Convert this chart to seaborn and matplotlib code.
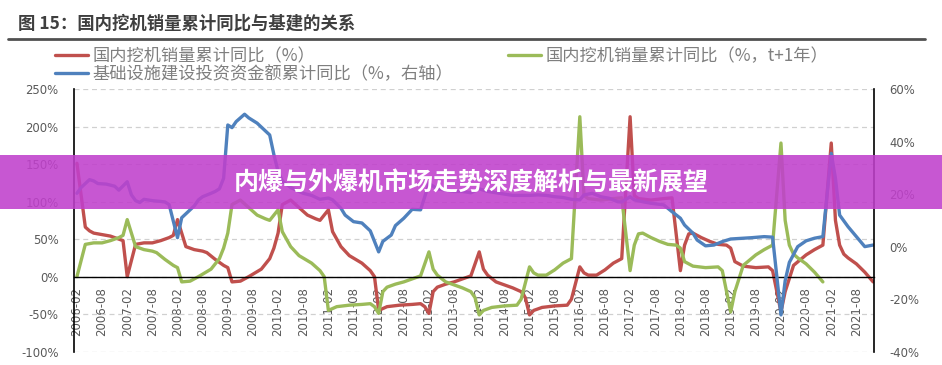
import pandas as pd
import matplotlib
matplotlib.use('Agg')
import matplotlib.pyplot as plt
import seaborn as sns
from matplotlib.lines import Line2D
from matplotlib.patches import Rectangle

# 国内挖机销量累计同比（%）
red_dates = ['2006-02', '2006-04', '2006-05', '2006-06', '2006-08', '2006-10', '2006-12', '2007-01',
             '2007-02', '2007-04', '2007-06', '2007-08', '2007-10', '2007-12', '2008-01', '2008-02',
             '2008-04', '2008-06', '2008-08', '2008-09', '2008-11', '2009-01', '2009-02', '2009-03',
             '2009-05', '2009-07', '2009-10', '2009-12', '2010-01', '2010-02', '2010-03', '2010-05',
             '2010-07', '2010-09', '2010-11', '2010-12', '2011-02', '2011-03', '2011-05', '2011-07',
             '2011-10', '2011-12', '2012-01', '2012-02', '2012-04', '2012-07', '2012-10', '2012-12',
             '2013-01', '2013-02', '2013-03', '2013-04', '2013-06', '2013-08', '2013-10', '2013-12',
             '2014-02', '2014-03', '2014-04', '2014-06', '2014-08', '2014-10', '2014-12', '2015-01',
             '2015-02', '2015-03', '2015-05', '2015-08', '2015-11', '2015-12', '2016-02', '2016-03',
             '2016-04', '2016-06', '2016-08', '2016-10', '2016-12', '2017-02', '2017-03', '2017-04',
             '2017-07', '2017-10', '2017-12', '2018-02', '2018-03', '2018-04', '2018-05', '2018-07',
             '2018-09', '2018-11', '2019-01', '2019-02', '2019-03', '2019-05', '2019-08', '2019-11',
             '2019-12', '2020-02', '2020-03', '2020-05', '2020-08', '2020-10', '2020-12', '2021-02',
             '2021-03', '2021-04', '2021-05', '2021-06', '2021-08', '2021-10', '2021-12']
red_vals = [151, 66, 61, 58, 56, 54, 50, 48,
            0, 43, 45, 45, 48, 52, 55, 76,
            40, 36, 34, 32, 23, 15, 12, -7,
            -6, 0, 10, 24, 38, 58, 96, 102,
            92, 82, 77, 75, 89, 60, 40, 28,
            18, 8, 0, -45, -40, -38, -37, -36,
            -40, -49, -20, -14, -10, -7, -3, 1,
            33, 10, 2, -7, -11, -15, -20, -28,
            -51, -45, -41, -39, -38, -30, 13, 5,
            2, 2, 9, 18, 24, 213, 108, 104,
            102, 104, 105, 8, 42, 57, 58, 52,
            47, 43, 42, 38, 20, 14, 12, 13,
            8, -47, -20, 15, 29, 36, 42, 178,
            75, 42, 30, 25, 17, 6, -7]

# 国内挖机销量累计同比（%，t+1年）
green_dates = ['2006-02', '2006-04', '2006-06', '2006-08', '2006-10', '2006-12', '2007-01', '2007-02',
               '2007-04', '2007-06', '2007-08', '2007-09', '2007-11', '2008-01', '2008-02', '2008-03',
               '2008-05', '2008-07', '2008-10', '2008-12', '2009-01', '2009-02', '2009-03', '2009-05',
               '2009-07', '2009-09', '2009-11', '2009-12', '2010-02', '2010-03', '2010-05', '2010-07',
               '2010-10', '2010-12', '2011-01', '2011-02', '2011-04', '2011-07', '2011-10', '2011-12',
               '2012-01', '2012-02', '2012-03', '2012-04', '2012-06', '2012-08', '2012-10', '2012-12',
               '2013-02', '2013-03', '2013-04', '2013-06', '2013-08', '2013-10', '2013-12', '2014-01',
               '2014-02', '2014-03', '2014-05', '2014-08', '2014-11', '2014-12', '2015-02', '2015-03',
               '2015-04', '2015-06', '2015-08', '2015-10', '2015-12', '2016-02', '2016-03', '2016-04',
               '2016-07', '2016-10', '2016-12', '2017-02', '2017-03', '2017-04', '2017-05', '2017-07',
               '2017-09', '2017-11', '2018-01', '2018-02', '2018-03', '2018-05', '2018-08', '2018-11',
               '2018-12', '2019-02', '2019-03', '2019-05', '2019-08', '2019-10', '2019-12', '2020-02',
               '2020-03', '2020-04', '2020-05', '2020-06', '2020-08', '2020-10', '2020-12']
green_vals = [0, 43, 45, 45, 48, 52, 55, 76,
              40, 36, 34, 32, 23, 15, 12, -7,
              -6, 0, 10, 24, 38, 58, 96, 102,
              92, 82, 77, 75, 89, 60, 40, 28,
              18, 8, 0, -45, -40, -38, -37, -36,
              -40, -49, -20, -14, -10, -7, -3, 1,
              33, 10, 2, -7, -11, -15, -20, -28,
              -51, -45, -41, -39, -38, -30, 13, 5,
              2, 2, 9, 18, 24, 213, 108, 104,
              102, 104, 105, 8, 42, 57, 58, 52,
              47, 43, 42, 38, 20, 14, 12, 13,
              8, -47, -20, 15, 29, 36, 42, 178,
              75, 42, 30, 25, 17, 6, -7]

# 基础设施建设投资资金额累计同比（%，右轴）
blue_dates = ['2006-02', '2006-03', '2006-05', '2006-06', '2006-07', '2006-09', '2006-11', '2006-12',
              '2007-02', '2007-03', '2007-04', '2007-05', '2007-06', '2007-08', '2007-10', '2007-11',
              '2007-12', '2008-02', '2008-03', '2008-04', '2008-05', '2008-06', '2008-07', '2008-08',
              '2008-10', '2008-11', '2008-12', '2009-01', '2009-02', '2009-03', '2009-04', '2009-06',
              '2009-07', '2009-08', '2009-09', '2009-10', '2009-12', '2010-01', '2010-02', '2010-03',
              '2010-05', '2010-07', '2010-08', '2010-10', '2010-12', '2011-02', '2011-03', '2011-05',
              '2011-06', '2011-08', '2011-10', '2011-12', '2012-02', '2012-03', '2012-05', '2012-06',
              '2012-08', '2012-10', '2012-12', '2013-02', '2013-04', '2013-06', '2013-08', '2013-10',
              '2013-12', '2014-02', '2014-04', '2014-06', '2014-08', '2014-10', '2014-12', '2015-02',
              '2015-04', '2015-06', '2015-08', '2015-10', '2015-12', '2016-02', '2016-03', '2016-05',
              '2016-07', '2016-09', '2016-11', '2016-12', '2017-02', '2017-03', '2017-05', '2017-07',
              '2017-10', '2017-12', '2018-02', '2018-03', '2018-05', '2018-06', '2018-08', '2018-10',
              '2018-12', '2019-02', '2019-05', '2019-07', '2019-10', '2019-12', '2020-02', '2020-03',
              '2020-04', '2020-06', '2020-08', '2020-10', '2020-12', '2021-02', '2021-03', '2021-04',
              '2021-06', '2021-08', '2021-10', '2021-12']
blue_vals = [20.3, 22.5, 25.5, 25, 24, 23.8, 23, 21.5,
             24.7, 19.7, 17.5, 16.8, 18, 17.5, 17.2, 17,
             16, 3.4, 11, 12.5, 14, 15.5, 17.8, 19,
             20.3, 21, 22, 26, 46.3, 45.3, 47.6, 50.4,
             49, 48, 47, 45.5, 42.5, 35, 28.6, 25,
             22.5, 21, 20.3, 19.5, 18, 18.5, 17.8, 14.6,
             12, 9.5, 9, 6, -2, 2, 4.4, 8,
             10.8, 14.2, 14, 24, 22, 21.5, 21, 21,
             20.5, 22, 21, 20.5, 20, 19.5, 19.5, 19.5,
             19.7, 19.5, 19, 18.7, 18, 17.8, 19.7, 20.3,
             19, 18.4, 17.1, 17, 19, 17.8, 17.1, 16.5,
             15.9, 13.3, 10.8, 8.2, 5.1, 2.5, 0.3, 0.6,
             1.9, 2.9, 3.2, 3.4, 3.8, 3.6, -26, -13,
             -6, 0, 2.2, 3.2, 3.8, 35.5, 26, 12,
             7.6, 3.8, 0, 0.6]

x_labels = ['2006-02', '2006-08', '2007-02', '2007-08', '2008-02', '2008-08', '2009-02', '2009-08',
            '2010-02', '2010-08', '2011-02', '2011-08', '2012-02', '2012-08', '2013-02', '2013-08',
            '2014-02', '2014-08', '2015-02', '2015-08', '2016-02', '2016-08', '2017-02', '2017-08',
            '2018-02', '2018-08', '2019-02', '2019-08', '2020-02', '2020-08', '2021-02', '2021-08']
left_ticks = [-100, -50, 0, 50, 100, 150, 200, 250]
right_ticks = [-40, -20, 0, 20, 40, 60]

labels = ['国内挖机销量累计同比（%）', '基础设施建设投资资金额累计同比（%，右轴）', '国内挖机销量累计同比（%，t+1年）']
RED, GREEN, BLUE = '#C0504D', '#9BBB59', '#4F81BD'
CJK = ['Noto Sans CJK SC', 'DejaVu Sans']


def month_pos(dates):
    # 月度类目轴：2006-02 为 0
    d = pd.to_datetime(pd.Series(dates), format='%Y-%m')
    return ((d.dt.year - 2006) * 12 + d.dt.month - 2).values


sns.set_style('white')
# 刻度数字用 DejaVu Sans，中文文字单独指定 CJK 字体
plt.rcParams['font.family'] = ['DejaVu Sans', 'Noto Sans CJK SC']

fig = plt.figure(figsize=(9.42, 3.65), dpi=100)
ax = fig.add_axes([74 / 942, 1 - 351.7 / 365, 800 / 942, 262.7 / 365])

df_red = pd.DataFrame({'m': month_pos(red_dates), 'v': red_vals})
df_green = pd.DataFrame({'m': month_pos(green_dates), 'v': green_vals})
df_blue = pd.DataFrame({'m': month_pos(blue_dates), 'v': blue_vals})

line_kw = dict(linewidth=2.4, solid_joinstyle='round', solid_capstyle='round')
sns.lineplot(data=df_red, x='m', y='v', ax=ax, color=RED, **line_kw)
sns.lineplot(data=df_green, x='m', y='v', ax=ax, color=GREEN, **line_kw)

ax2 = ax.twinx()
sns.lineplot(data=df_blue, x='m', y='v', ax=ax2, color=BLUE, **line_kw)

ax.set_xlim(-0.7, 190.2)
ax.set_ylim(-100, 250)
ax2.set_ylim(-40, 60)

ax.set_xticks(month_pos(x_labels))
ax.set_xticklabels(x_labels)
ax.set_yticks(left_ticks)
ax.set_yticklabels([f'{t}%' for t in left_ticks])
ax2.set_yticks(right_ticks)
ax2.set_yticklabels([f'{t}%' for t in right_ticks])
for a in (ax, ax2):
    a.set_xlabel('')
    a.set_ylabel('')

ax.yaxis.grid(True, linestyle=(0, (4, 3)), color='#d0d0d0', linewidth=0.9)
ax.set_axisbelow(True)

ax.spines['bottom'].set_position(('data', 0))
ax.spines['bottom'].set_color('black')
ax.spines['bottom'].set_linewidth(1.0)
ax.spines['top'].set_visible(False)
ax.spines['right'].set_visible(False)
ax.spines['left'].set_color('black')
ax.spines['left'].set_linewidth(1.2)
for s in ('top', 'bottom', 'left'):
    ax2.spines[s].set_visible(False)
ax2.spines['right'].set_color('black')
ax2.spines['right'].set_linewidth(1.2)

ax.tick_params(axis='y', length=0, pad=11, labelsize=8.4, labelcolor='#595959')
ax.tick_params(axis='x', length=0, pad=7.5, labelsize=8.5, labelcolor='#595959', labelrotation=90)
ax2.tick_params(axis='y', length=0, pad=11, labelsize=8.4, labelcolor='#595959')

# 标题与分隔线
fig.text(18 / 942, 1 - 24 / 365, '图 15：国内挖机销量累计同比与基建的关系', fontsize=12.5,
         fontweight='bold', color='#3f3f3f', va='center', ha='left', family=CJK)
fig.add_artist(Line2D([8 / 942, 925 / 942], [1 - 38.5 / 365] * 2, color='#505050', linewidth=2))

# 图例
h_red = Line2D([], [], color=RED, linewidth=2.4)
h_blue = Line2D([], [], color=BLUE, linewidth=2.4)
h_green = Line2D([], [], color=GREEN, linewidth=2.4)
leg_kw = dict(loc='upper left', frameon=False, prop={'family': CJK, 'size': 12.4},
              handlelength=1.9, handletextpad=0.3, labelspacing=0.0, borderaxespad=0,
              borderpad=0, labelcolor='#7f7f7f')
fig.legend(handles=[h_red, h_blue], labels=[labels[0], labels[1]],
           bbox_to_anchor=(55 / 942, 1 - 47.5 / 365), **leg_kw)
fig.legend(handles=[h_green], labels=[labels[2]],
           bbox_to_anchor=(508 / 942, 1 - 47.5 / 365), **leg_kw)

# 紫色横幅
fig.add_artist(Rectangle((0, 1 - 208.5 / 365), 1, 53.5 / 365, transform=fig.transFigure,
                         facecolor='#c040cc', alpha=0.88, edgecolor='none', zorder=10))
fig.text(0.5, 1 - 183 / 365, '内爆与外爆机市场走势深度解析与最新展望', ha='center', va='center',
         fontsize=18, fontweight='bold', color='white', zorder=11, family=CJK)

fig.savefig('out.png', dpi=100)
